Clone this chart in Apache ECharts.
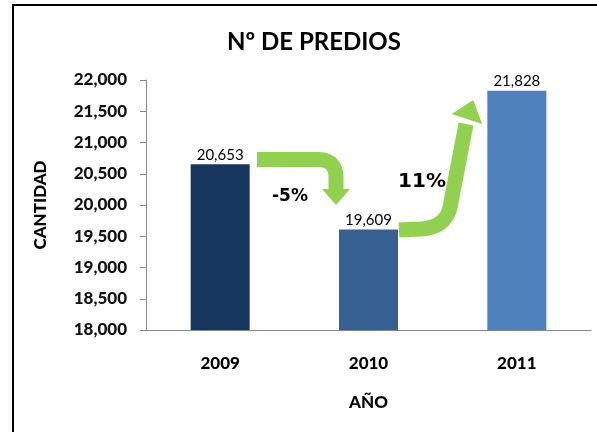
<!DOCTYPE html>
<html><head><meta charset="utf-8">
<script src="https://cdn.jsdelivr.net/npm/echarts@6/dist/echarts.min.js"></script>
<style>html,body{margin:0;padding:0;background:#fff}#c{width:597px;height:432px}</style>
</head><body><div id="c"></div>
<script>
var categories = ['2009', '2010', '2011'];
var values = [20653, 19609, 21828];
var barColors = ['#17365D', '#366092', '#4F81BD'];
var changeLabels = ['-5%', '11%'];

var chart = echarts.init(document.getElementById('c'), null, {renderer: 'canvas'});
var green = '#92D050';
var fontF = 'Lato, "Open Sans", sans-serif';

chart.setOption({
  animation: false,
  backgroundColor: '#fff',
  title: {
    text: 'Nº DE PREDIOS', left: 309, top: 25, textAlign: 'center',
    textStyle: {fontFamily: fontF, fontWeight: 'bold', fontSize: 24, color: '#000'}
  },
  grid: {left: 146, right: 6, top: 80, bottom: 102},
  xAxis: {
    type: 'category', data: categories,
    name: 'AÑO', nameLocation: 'middle', nameGap: 64,
    nameTextStyle: {fontFamily: fontF, fontWeight: 900, fontSize: 17, color: '#000'},
    axisLine: {lineStyle: {color: '#868686', width: 1}},
    axisTick: {show: false},
    axisLabel: {margin: 25, fontFamily: fontF, fontWeight: 900, fontSize: 17, color: '#000'}
  },
  yAxis: {
    type: 'value', min: 18000, max: 22000, interval: 500,
    name: 'CANTIDAD', nameLocation: 'middle', nameGap: 97, nameRotate: 90,
    nameTextStyle: {fontFamily: fontF, fontWeight: 900, fontSize: 17, color: '#000'},
    axisLine: {show: true, lineStyle: {color: '#868686', width: 1}},
    axisTick: {show: true, length: 6, lineStyle: {color: '#868686'}},
    splitLine: {show: false},
    axisLabel: {margin: 19, fontFamily: fontF, fontWeight: 900, fontSize: 17, color: '#111',
      formatter: function (v) { return v.toLocaleString('en-US'); }}
  },
  series: [{
    type: 'bar', barWidth: 59,
    data: values.map(function (v, i) { return {value: v, itemStyle: {color: barColors[i]}}; }),
    label: {show: true, position: 'top', distance: 2, fontFamily: fontF, fontSize: 15, color: '#000',
      formatter: function (p) { return p.value.toLocaleString('en-US'); }}
  }]
});

// decorative arrows and change labels
function headPts(cx, cy, dx, dy, hw, len) {
  var n = Math.sqrt(dx*dx + dy*dy); dx /= n; dy /= n;
  var px = -dy, py = dx;
  return [[cx + px*hw, cy + py*hw], [cx - px*hw, cy - py*hw], [cx + dx*len, cy + dy*len]];
}
function quad(p0, c, p1, n) {
  var pts = [];
  for (var i = 1; i <= n; i++) {
    var t = i / n, u = 1 - t;
    pts.push([u*u*p0[0] + 2*u*t*c[0] + t*t*p1[0], u*u*p0[1] + 2*u*t*c[1] + t*t*p1[1]]);
  }
  return pts;
}
var a1 = [[257, 159.5], [318, 159.5]].concat(quad([318, 159.5], [336, 159.5], [336, 178], 12)).concat([[336, 190]]);
var a2 = [[399, 230], [420, 229]].concat(quad([420, 229], [448, 228], [451, 202], 14)).concat([[466, 124]]);

chart.setOption({
  graphic: [
    {type: 'rect', shape: {x: 13, y: 5, width: 600, height: 440}, style: {fill: null, stroke: '#000', lineWidth: 2}, silent: true},
    {type: 'polyline', shape: {points: a1}, style: {fill: null, stroke: green, lineWidth: 15, lineJoin: 'round'}},
    {type: 'polygon', shape: {points: headPts(336, 189, 0, 1, 14, 16)}, style: {fill: green}},
    {type: 'polyline', shape: {points: a2}, style: {fill: null, stroke: green, lineWidth: 15, lineJoin: 'round'}},
    {type: 'polygon', shape: {points: headPts(467, 119, 17, -52, 16, 20)}, style: {fill: green}},
    {type: 'text', x: 290, y: 197, style: {text: changeLabels[0], font: 'bold 17px "DejaVu Sans", sans-serif', fill: '#000', align: 'center', verticalAlign: 'middle'}},
    {type: 'text', x: 422, y: 182, style: {text: changeLabels[1], font: 'bold 20px "DejaVu Sans", sans-serif', fill: '#000', align: 'center', verticalAlign: 'middle'}}
  ]
});
</script></body></html>
